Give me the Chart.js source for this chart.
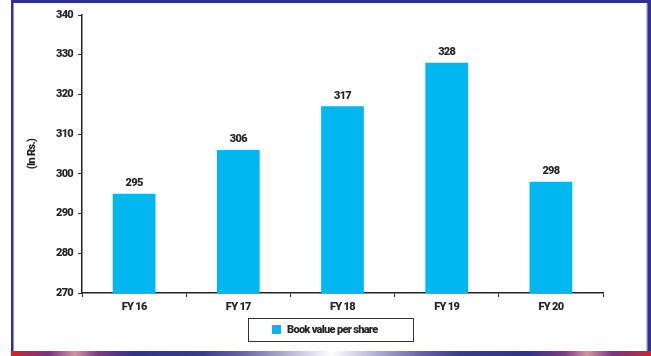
<!DOCTYPE html>
<html><head><meta charset="utf-8">
<script src="https://cdn.jsdelivr.net/npm/chart.js@4.4.1/dist/chart.umd.min.js"></script>
<style>html,body{margin:0;padding:0;background:#fff;}#wrap{position:relative;width:651px;height:356px;}</style>
</head><body><div id="wrap"><canvas id="c" width="651" height="356"></canvas></div>
<script>
const categories = ["FY 16", "FY 17", "FY 18", "FY 19", "FY 20"];
const bookValue = [295, 306, 317, 328, 298];
const seriesName = "Book value per share";
const yTitle = "(In Rs.)";
const yMin = 270, yMax = 340, yStep = 10;

const FONT = 'Roboto, "DejaVu Sans Condensed", sans-serif';
const WEIGHT = 900;
const SPACING = '-0.7px';
const BAR = '#00b7f0';
const TXT = '#262626';

const deco = {
  id: 'deco',
  beforeDraw(chart) {
    const ctx = chart.ctx;
    ctx.save();
    ctx.fillStyle = '#fff';
    ctx.fillRect(0, 0, 651, 356);
    ctx.fillStyle = '#2e3192';
    ctx.fillRect(11, 0, 640, 3);
    ctx.fillRect(11, 0, 2.5, 351);
    ctx.fillStyle = '#8a8cc8';
    ctx.fillRect(646.5, 3, 1, 348);
    ctx.fillStyle = '#2e3192';
    ctx.fillRect(647.5, 0, 3.5, 351);
    const g = ctx.createLinearGradient(11, 0, 651, 0);
    const stops = [[0,'#e31b23'],[0.02,'#b02a55'],[0.06,'#7d3480'],[0.1,'#d693a2'],[0.135,'#7f3a82'],[0.19,'#33328f'],[0.3,'#3a3a95'],[0.36,'#6a60ab'],[0.5,'#ffffff'],[0.64,'#6a60ab'],[0.7,'#3a3a95'],[0.81,'#33328f'],[0.865,'#7f3a82'],[0.9,'#d693a2'],[0.94,'#7d3480'],[0.98,'#b02a55'],[1,'#e31b23']];
    stops.forEach(s => g.addColorStop(s[0], s[1]));
    ctx.fillStyle = g;
    ctx.fillRect(11, 351, 640, 5);
    ctx.restore();
    if ('letterSpacing' in ctx) ctx.letterSpacing = SPACING;
  },
  afterDatasetsDraw(chart) {
    const ctx = chart.ctx;
    const meta = chart.getDatasetMeta(0);
    ctx.save();
    if ('letterSpacing' in ctx) ctx.letterSpacing = SPACING;
    ctx.font = WEIGHT + ' 11px ' + FONT;
    ctx.fillStyle = TXT;
    ctx.textAlign = 'center';
    ctx.textBaseline = 'bottom';
    meta.data.forEach((bar, i) => {
      ctx.fillText(String(bookValue[i]), bar.x, bar.y - 5);
    });
    ctx.strokeStyle = '#333';
    ctx.lineWidth = 1;
    ctx.strokeRect(248.5, 318.5, 165, 23);
    ctx.fillStyle = BAR;
    ctx.fillRect(272, 325, 9, 9);
    ctx.fillStyle = TXT;
    ctx.textAlign = 'left';
    ctx.textBaseline = 'middle';
    ctx.fillText(seriesName, 287, 330);
    ctx.restore();
  }
};

function build() {
  const f = { family: FONT, size: 11, weight: WEIGHT };
  new Chart(document.getElementById('c'), {
    type: 'bar',
    data: {
      labels: categories,
      datasets: [{ label: seriesName, data: bookValue, backgroundColor: BAR, borderWidth: 0,
        barPercentage: 0.41, categoryPercentage: 1 }]
    },
    options: {
      responsive: false,
      animation: false,
      devicePixelRatio: 1,
      layout: { padding: { left: 0, top: 15, right: 48, bottom: 33 } },
      plugins: { legend: { display: false }, tooltip: { enabled: false } },
      scales: {
        x: {
          afterFit(s) { s.height = 30; },
          grid: { display: true, drawOnChartArea: false, offset: true, tickLength: 4, color: '#333', lineWidth: 1 },
          border: { display: true, color: '#222', width: 1.5 },
          ticks: { color: TXT, font: f, padding: 4 }
        },
        y: {
          min: yMin, max: yMax,
          afterFit(s) { s.width = 82; },
          grid: { display: true, drawOnChartArea: false, tickLength: 4, color: '#333', lineWidth: 1 },
          border: { display: true, color: '#222', width: 1.5 },
          ticks: { stepSize: yStep, color: TXT, font: f, padding: 5 },
          title: { display: true, text: yTitle, color: TXT, font: f, padding: { top: 26, bottom: 0 } }
        }
      }
    },
    plugins: [deco]
  });
}
if (document.fonts && document.fonts.load) {
  Promise.all([document.fonts.load(WEIGHT + ' 11px Roboto'), document.fonts.load('bold 11px Roboto')]).then(build, build);
} else { build(); }
</script></body></html>
